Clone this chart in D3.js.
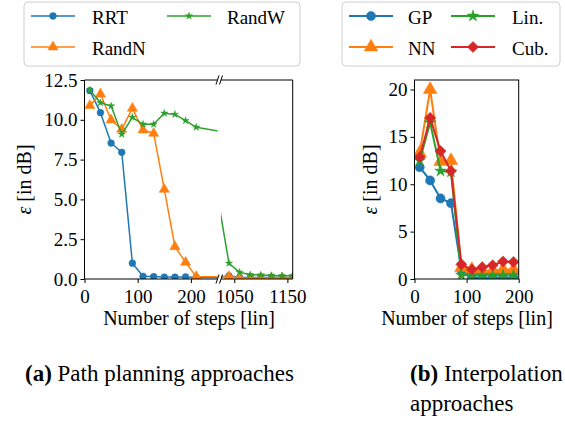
<!DOCTYPE html>
<html lang="en">
<head>
<meta charset="utf-8">
<title>Error vs number of steps</title>
<script src="https://cdn.jsdelivr.net/npm/d3@7"></script>
<style>
  body { margin: 0; background: #fff; }
  #fig text { font-family: "Liberation Serif", "Times New Roman", serif; fill: #000; }
  .tick line { stroke: #000; }
  .spine { stroke: #000; stroke-width: 1; fill: none; }
  .legend-box { fill: #fff; stroke: #cfcfcf; stroke-width: 1; }
</style>
</head>
<body>
<svg id="fig" width="565" height="421"></svg>
<script>
// ---- (a) path planning, broken x axis ----
var stepsA = [10, 30, 50, 70, 90, 110, 130, 150, 170, 190, 210,
              1020, 1040, 1060, 1080, 1100, 1120, 1140, 1160];
var rrt   = [11.83, 10.45, 8.54, 7.96, 0.99, 0.17, 0.15, 0.12, 0.12, 0.13, 0.10,
             0.10, 0.20, 0.10, 0.10, 0.10, 0.10, 0.10, 0.10];
var randN = [10.89, 11.62, 9.99, 9.40, 10.72, 9.36, 9.15, 5.63, 2.03, 1.05, 0.15,
             0.10, 0.15, 0.06, 0.06, 0.06, 0.06, 0.06, 0.06];
var randW = [11.87, 11.07, 10.87, 9.09, 10.16, 9.72, 9.72, 10.41, 10.34, 9.95, 9.53,
             4.90, 0.99, 0.42, 0.27, 0.25, 0.22, 0.20, 0.20];
var ticksAx1 = [0, 100, 200], ticksAx2 = [1050, 1150];
var ticksAy = [0, 2.5, 5, 7.5, 10, 12.5];

// ---- (b) interpolation ----
var stepsB = [10, 30, 50, 70, 90, 110, 130, 150, 170, 190];
var gp  = [11.8, 10.4, 8.5, 8.0, 0.9, 0.1, 0.1, 0.1, 0.1, 0.1];
var nn  = [13.3, 20.0, 12.4, 12.5, 1.2, 1.0, 0.9, 0.9, 1.0, 1.0];
var lin = [12.5, 16.5, 11.4, 11.3, 0.4, 0.4, 0.4, 0.4, 0.4, 0.4];
var cub = [12.85, 17.0, 13.5, 11.4, 1.55, 1.0, 1.25, 1.45, 1.85, 1.8];
var ticksBx = [0, 100, 200], ticksBy = [0, 5, 10, 15, 20];

var blue = "#1f77b4", orange = "#ff7f0e", green = "#2ca02c", red = "#d62728";

var svg = d3.select("#fig");

// symbol shapes (diamond = rotated square like matplotlib "D")
function sym(kind, size) {
  if (kind == "circle") return d3.symbol(d3.symbolCircle, size)();
  if (kind == "tri") return d3.symbol(d3.symbolTriangle, size)();
  if (kind == "star") return d3.symbol(d3.symbolStar, size)();
  return d3.symbol(d3.symbolSquare, size)();
}
function marker(g, kind, size, color, x, y) {
  g.append("path")
    .attr("d", sym(kind, size))
    .attr("fill", color).attr("stroke", color).attr("stroke-width", 0.5)
    .attr("transform", "translate(" + x + "," + y + ")" + (kind == "diamond" ? " rotate(45)" : ""));
}

function series(g, xs, ys, x, y, color, kind, size, lw) {
  var pts = xs.map(function(d, i) { return [d, ys[i]]; });
  var dom = x.domain();
  g.append("path")
    .datum(pts)
    .attr("fill", "none").attr("stroke", color).attr("stroke-width", lw)
    .attr("stroke-linejoin", "round")
    .attr("d", d3.line().x(function(d) { return x(d[0]); }).y(function(d) { return y(d[1]); }));
  // markers only for points inside this axis segment
  pts.filter(function(d) { return d[0] >= dom[0] && d[0] <= dom[1]; })
    .forEach(function(d) { marker(g, kind, size, color, x(d[0]), y(d[1])); });
}

function styleAxis(g) {
  g.select(".domain").remove();
  g.attr("font-size", 19).attr("font-family", null);
}

// ================= panel (a) =================
var yTop = 80, yBot = 279;
var ya = d3.scaleLinear().domain([0, 12.5]).range([yBot, yTop]);
var xa1 = d3.scaleLinear().domain([0, 250]).range([84.5, 217.5]);
var xa2 = d3.scaleLinear().domain([1025, 1160]).range([221, 292.7]);

var defs = svg.append("defs");
defs.append("clipPath").attr("id", "clipA1").append("rect")
  .attr("x", 84.5).attr("y", yTop).attr("width", 133).attr("height", yBot - yTop);
defs.append("clipPath").attr("id", "clipA2").append("rect")
  .attr("x", 221).attr("y", yTop).attr("width", 71.7).attr("height", yBot - yTop);
defs.append("clipPath").attr("id", "clipB").append("rect")
  .attr("x", 414.5).attr("y", yTop).attr("width", 104.2).attr("height", yBot - yTop);

[[xa1, "clipA1"], [xa2, "clipA2"]].forEach(function(p) {
  var g = svg.append("g").attr("clip-path", "url(#" + p[1] + ")");
  series(g, stepsA, rrt, p[0], ya, blue, "circle", 36, 1.5);
  series(g, stepsA, randN, p[0], ya, orange, "tri", 45, 1.5);
  series(g, stepsA, randW, p[0], ya, green, "star", 16, 1.5);
});

svg.append("g").attr("transform", "translate(84.5,0)")
  .call(d3.axisLeft(ya).tickValues(ticksAy).tickFormat(d3.format(".1f")).tickSize(4).tickPadding(3))
  .call(styleAxis);
svg.append("g").attr("transform", "translate(0," + yBot + ")")
  .call(d3.axisBottom(xa1).tickValues(ticksAx1).tickFormat(d3.format("d")).tickSize(4).tickPadding(7))
  .call(styleAxis);
svg.append("g").attr("transform", "translate(0," + yBot + ")")
  .call(d3.axisBottom(xa2).tickValues(ticksAx2).tickFormat(d3.format("d")).tickSize(4).tickPadding(7))
  .call(styleAxis);

// spines of the two segments
svg.append("path").attr("class", "spine")
  .attr("d", "M217.5," + yTop + "H84.5V" + yBot + "H217.5");
svg.append("path").attr("class", "spine")
  .attr("d", "M221," + yTop + "H292.7V" + yBot + "H221");

// break marks
[217.5, 221].forEach(function(bx) {
  [yTop, yBot].forEach(function(by) {
    svg.append("line").attr("class", "spine").attr("stroke-width", 1.3)
      .attr("x1", bx - 1.5).attr("y1", by + 4.5).attr("x2", bx + 1.5).attr("y2", by - 4.5);
  });
});

svg.append("text").attr("font-size", 20).attr("text-anchor", "middle")
  .attr("x", 189).attr("y", 324.5).text("Number of steps [lin]");
svg.append("text").attr("font-size", 20).attr("text-anchor", "middle")
  .attr("transform", "translate(31,179.5) rotate(-90)")
  .html('<tspan font-style="italic">ε</tspan> [in dB]');

// ================= panel (b) =================
var yb = d3.scaleLinear().domain([0, 21]).range([yBot, yTop]);
var xb = d3.scaleLinear().domain([0, 200]).range([414.5, 518.7]);

var gb = svg.append("g").attr("clip-path", "url(#clipB)");
series(gb, stepsB, gp, xb, yb, blue, "circle", 66, 2);
series(gb, stepsB, nn, xb, yb, orange, "tri", 80, 2);
series(gb, stepsB, lin, xb, yb, green, "star", 42, 2);
series(gb, stepsB, cub, xb, yb, red, "diamond", 62, 2);

svg.append("g").attr("transform", "translate(414.5,0)")
  .call(d3.axisLeft(yb).tickValues(ticksBy).tickSize(4).tickPadding(3))
  .call(styleAxis);
svg.append("g").attr("transform", "translate(0," + yBot + ")")
  .call(d3.axisBottom(xb).tickValues(ticksBx).tickSize(4).tickPadding(7))
  .call(styleAxis);
svg.append("rect").attr("class", "spine")
  .attr("x", 414.5).attr("y", yTop).attr("width", 104.2).attr("height", yBot - yTop);

svg.append("text").attr("font-size", 20).attr("text-anchor", "middle")
  .attr("x", 467).attr("y", 324.5).text("Number of steps [lin]");
svg.append("text").attr("font-size", 20).attr("text-anchor", "middle")
  .attr("transform", "translate(377,179.5) rotate(-90)")
  .html('<tspan font-style="italic">ε</tspan> [in dB]');

// ================= legends =================
function legend(x0, w, items) {
  var g = svg.append("g");
  g.append("rect").attr("class", "legend-box")
    .attr("x", x0).attr("y", 2).attr("width", w).attr("height", 64).attr("rx", 4);
  items.forEach(function(it) {
    g.append("line").attr("x1", it.x).attr("x2", it.x + 44).attr("y1", it.y).attr("y2", it.y)
      .attr("stroke", it.color).attr("stroke-width", it.lw);
    marker(g, it.kind, it.size, it.color, it.x + 22, it.y);
    g.append("text").attr("font-size", 19).attr("x", it.tx).attr("y", it.y + 7.5).text(it.name);
  });
}
legend(24, 276, [
  {name: "RRT", color: blue, kind: "circle", size: 36, lw: 1.5, x: 31, tx: 92, y: 16},
  {name: "RandN", color: orange, kind: "tri", size: 45, lw: 1.5, x: 31, tx: 92, y: 47},
  {name: "RandW", color: green, kind: "star", size: 16, lw: 1.5, x: 167, tx: 227, y: 16}
]);
legend(342, 218, [
  {name: "GP", color: blue, kind: "circle", size: 66, lw: 2, x: 349, tx: 408, y: 16},
  {name: "NN", color: orange, kind: "tri", size: 80, lw: 2, x: 349, tx: 408, y: 47},
  {name: "Lin.", color: green, kind: "star", size: 42, lw: 2, x: 451, tx: 512, y: 16},
  {name: "Cub.", color: red, kind: "diamond", size: 62, lw: 2, x: 451, tx: 512, y: 47}
]);

// ================= captions =================
var ca = svg.append("text").attr("font-size", 23).attr("x", 25).attr("y", 381);
ca.append("tspan").attr("font-weight", "bold").text("(a)");
ca.append("tspan").text(" Path planning approaches");
var cb = svg.append("text").attr("font-size", 23).attr("x", 410).attr("y", 381);
cb.append("tspan").attr("font-weight", "bold").text("(b)");
cb.append("tspan").text(" Interpolation");
svg.append("text").attr("font-size", 23).attr("x", 410).attr("y", 411).text("approaches");
</script>
</body>
</html>
